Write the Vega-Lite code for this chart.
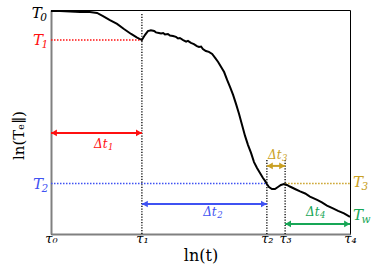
{
  "$schema": "https://vega.github.io/schema/vega-lite/v6.json",
  "width": 299,
  "height": 224,
  "autosize": {"type": "none"},
  "padding": {"left": 51, "top": 10, "right": 24, "bottom": 36},
  "background": "white",
  "config": {
    "view": {"stroke": "black", "strokeWidth": 1},
    "font": "DejaVu Serif"
  },
  "datasets": {
    "curve": [
      {"t": 0, "T": 99.6}, {"t": 3.0, "T": 99.6}, {"t": 6.4, "T": 99.3}, {"t": 9.7, "T": 99.1}, {"t": 13.0, "T": 99.1},
      {"t": 15.4, "T": 98.7}, {"t": 17.4, "T": 97.3}, {"t": 19.7, "T": 95.5}, {"t": 22.1, "T": 93.8}, {"t": 24.4, "T": 91.5},
      {"t": 26.8, "T": 89.3}, {"t": 28.8, "T": 87.7}, {"t": 30.4, "T": 86.6}, {"t": 31.4, "T": 88.8}, {"t": 32.4, "T": 90.6},
      {"t": 33.4, "T": 90.9}, {"t": 34.5, "T": 90.6}, {"t": 35.1, "T": 90.0}, {"t": 36.1, "T": 89.7}, {"t": 36.8, "T": 89.5},
      {"t": 37.5, "T": 89.7}, {"t": 38.1, "T": 89.1}, {"t": 39.1, "T": 89.3}, {"t": 39.8, "T": 88.6}, {"t": 40.8, "T": 88.4},
      {"t": 41.8, "T": 88.0}, {"t": 42.5, "T": 87.3}, {"t": 43.1, "T": 87.5}, {"t": 44.2, "T": 86.6}, {"t": 45.2, "T": 85.9},
      {"t": 45.8, "T": 86.2}, {"t": 46.8, "T": 85.3}, {"t": 47.8, "T": 84.8}, {"t": 48.8, "T": 83.9}, {"t": 49.5, "T": 83.5},
      {"t": 50.2, "T": 83.7}, {"t": 50.8, "T": 82.6}, {"t": 51.8, "T": 81.7}, {"t": 52.8, "T": 81.3}, {"t": 53.9, "T": 80.4},
      {"t": 54.9, "T": 78.6}, {"t": 55.9, "T": 76.8}, {"t": 56.9, "T": 74.6}, {"t": 57.9, "T": 72.3}, {"t": 58.9, "T": 68.8},
      {"t": 59.9, "T": 65.6}, {"t": 60.9, "T": 62.1}, {"t": 61.9, "T": 58.0}, {"t": 62.9, "T": 53.6}, {"t": 63.9, "T": 48.7},
      {"t": 64.9, "T": 43.8}, {"t": 65.9, "T": 39.7}, {"t": 66.9, "T": 36.2}, {"t": 67.9, "T": 32.1}, {"t": 68.9, "T": 29.5},
      {"t": 69.9, "T": 27.2}, {"t": 70.9, "T": 25.0}, {"t": 71.6, "T": 23.7}, {"t": 72.2, "T": 22.3}, {"t": 72.9, "T": 21.0},
      {"t": 73.9, "T": 20.1}, {"t": 74.9, "T": 20.1}, {"t": 75.9, "T": 21.0}, {"t": 76.9, "T": 21.9}, {"t": 77.9, "T": 22.3},
      {"t": 78.9, "T": 21.9}, {"t": 79.9, "T": 21.2}, {"t": 81.6, "T": 20.1}, {"t": 83.3, "T": 19.0}, {"t": 85.0, "T": 18.1},
      {"t": 86.6, "T": 16.7}, {"t": 89.0, "T": 15.2}, {"t": 90.6, "T": 14.1}, {"t": 92.3, "T": 12.7}, {"t": 94.3, "T": 11.4},
      {"t": 96.0, "T": 10.3}, {"t": 98.0, "T": 9.2}, {"t": 100, "T": 7.6}
    ],
    "hlines": [
      {"x1": 0, "x2": 30.4, "y": 86.6, "g": "g1"},
      {"x1": 0, "x2": 72.2, "y": 22.5, "g": "g2"},
      {"x1": 78.3, "x2": 100, "y": 22.5, "g": "g3"}
    ],
    "vlines": [
      {"x": 30.4, "y1": 98.2, "y2": 0},
      {"x": 72.2, "y1": 33.0, "y2": 0},
      {"x": 78.3, "y1": 33.0, "y2": 0}
    ],
    "arrows": [
      {"x1": 0, "x2": 30.4, "y": 45.1, "g": "g1"},
      {"x1": 30.4, "x2": 72.2, "y": 13.4, "g": "g2"},
      {"x1": 72.2, "x2": 78.3, "y": 30.4, "g": "g3"},
      {"x1": 78.3, "x2": 100, "y": 4.5, "g": "g4"}
    ],
    "tlabels": [
      {"main": "T", "sub": "0", "x": -6.4, "y": 98.7, "g": "g0"},
      {"main": "T", "sub": "1", "x": -6.0, "y": 86.6, "g": "g1"},
      {"main": "T", "sub": "2", "x": -6.0, "y": 22.3, "g": "g2"},
      {"main": "T", "sub": "3", "x": 101.0, "y": 23.2, "g": "g3"},
      {"main": "T", "sub": "w", "x": 101.0, "y": 8.5, "g": "g4"}
    ],
    "dlabels": [
      {"main": "Δt", "sub": "1", "x": 14.4, "y": 40.2, "g": "g1"},
      {"main": "Δt", "sub": "2", "x": 50.9, "y": 9.8, "g": "g2"},
      {"main": "Δt", "sub": "3", "x": 72.6, "y": 35.3, "g": "g3"},
      {"main": "Δt", "sub": "4", "x": 85.3, "y": 9.8, "g": "g4"}
    ]
  },
  "layer": [
    {
      "data": {"name": "hlines"},
      "mark": {"type": "rule", "strokeDash": [1.5, 1.5], "strokeWidth": 1.5},
      "encoding": {
        "x": {"field": "x1", "type": "quantitative", "scale": {"domain": [0, 100], "nice": false, "zero": false},
          "axis": {"values": [0, 30.4, 72.2, 78.3, 100], "labelExpr": "datum.value == 0 ? 'τ₀' : datum.value == 30.4 ? 'τ₁' : datum.value == 72.2 ? 'τ₂' : datum.value == 78.3 ? 'τ₃' : 'τ₄'",
            "grid": false, "ticks": false, "domainColor": "#808080", "domainWidth": 2, "labelFont": "DejaVu Serif", "labelFontStyle": "italic", "labelFontSize": 13, "labelColor": "black", "labelPadding": -2, "labelFlush": false,
            "title": "ln(t)", "titleFont": "DejaVu Serif", "titleFontSize": 16, "titleFontWeight": "normal", "titleColor": "black", "titlePadding": 2}},
        "x2": {"field": "x2"},
        "y": {"field": "y", "type": "quantitative", "scale": {"domain": [0, 100], "nice": false, "zero": false},
          "axis": {"labels": false, "ticks": false, "grid": false, "domainColor": "#808080", "domainWidth": 2,
            "title": "ln(Tₑ∥)", "titleFont": "DejaVu Serif", "titleFontSize": 15, "titleFontWeight": "normal", "titleColor": "black",
            "titleAngle": 270, "titleAlign": "center", "titleBaseline": "middle", "titleX": -33, "titleY": 125}},
        "color": {"field": "g", "type": "nominal", "legend": null,
          "scale": {"domain": ["g0", "g1", "g2", "g3", "g4"], "range": ["#000000", "#ff1010", "#3f52f2", "#c9a024", "#17a656"]}}
      }
    },
    {
      "data": {"name": "vlines"},
      "mark": {"type": "rule", "strokeDash": [1.2, 1.5], "strokeWidth": 1.3, "color": "black"},
      "encoding": {
        "x": {"field": "x", "type": "quantitative"},
        "y": {"field": "y1", "type": "quantitative"},
        "y2": {"field": "y2"}
      }
    },
    {
      "data": {"name": "curve"},
      "mark": {"type": "line", "color": "black", "strokeWidth": 2},
      "encoding": {
        "x": {"field": "t", "type": "quantitative"},
        "y": {"field": "T", "type": "quantitative"}
      }
    },
    {
      "data": {"name": "arrows"},
      "mark": {"type": "rule", "strokeWidth": 2},
      "encoding": {
        "x": {"field": "x1", "type": "quantitative"},
        "x2": {"field": "x2"},
        "y": {"field": "y", "type": "quantitative"},
        "color": {"field": "g", "type": "nominal"}
      }
    },
    {
      "data": {"name": "arrows"},
      "mark": {"type": "point", "shape": "triangle-left", "filled": true, "opacity": 1, "size": 45, "xOffset": 3},
      "encoding": {
        "x": {"field": "x1", "type": "quantitative"},
        "y": {"field": "y", "type": "quantitative"},
        "color": {"field": "g", "type": "nominal"}
      }
    },
    {
      "data": {"name": "arrows"},
      "mark": {"type": "point", "shape": "triangle-right", "filled": true, "opacity": 1, "size": 45, "xOffset": -3},
      "encoding": {
        "x": {"field": "x2", "type": "quantitative"},
        "y": {"field": "y", "type": "quantitative"},
        "color": {"field": "g", "type": "nominal"}
      }
    },
    {
      "data": {"name": "tlabels"},
      "mark": {"type": "text", "font": "DejaVu Serif", "fontStyle": "italic", "fontSize": 15, "align": "left", "baseline": "middle"},
      "encoding": {
        "x": {"field": "x", "type": "quantitative"},
        "y": {"field": "y", "type": "quantitative"},
        "text": {"field": "main"},
        "color": {"field": "g", "type": "nominal"}
      }
    },
    {
      "data": {"name": "tlabels"},
      "mark": {"type": "text", "font": "DejaVu Serif", "fontStyle": "italic", "fontSize": 10.5, "align": "left", "baseline": "middle", "dx": 8.5, "dy": 5},
      "encoding": {
        "x": {"field": "x", "type": "quantitative"},
        "y": {"field": "y", "type": "quantitative"},
        "text": {"field": "sub"},
        "color": {"field": "g", "type": "nominal"}
      }
    },
    {
      "data": {"name": "dlabels"},
      "mark": {"type": "text", "font": "DejaVu Serif", "fontStyle": "italic", "fontSize": 12, "align": "left", "baseline": "middle"},
      "encoding": {
        "x": {"field": "x", "type": "quantitative"},
        "y": {"field": "y", "type": "quantitative"},
        "text": {"field": "main"},
        "color": {"field": "g", "type": "nominal"}
      }
    },
    {
      "data": {"name": "dlabels"},
      "mark": {"type": "text", "font": "DejaVu Serif", "fontStyle": "italic", "fontSize": 8.5, "align": "left", "baseline": "middle", "dx": 14, "dy": 3},
      "encoding": {
        "x": {"field": "x", "type": "quantitative"},
        "y": {"field": "y", "type": "quantitative"},
        "text": {"field": "sub"},
        "color": {"field": "g", "type": "nominal"}
      }
    }
  ]
}
